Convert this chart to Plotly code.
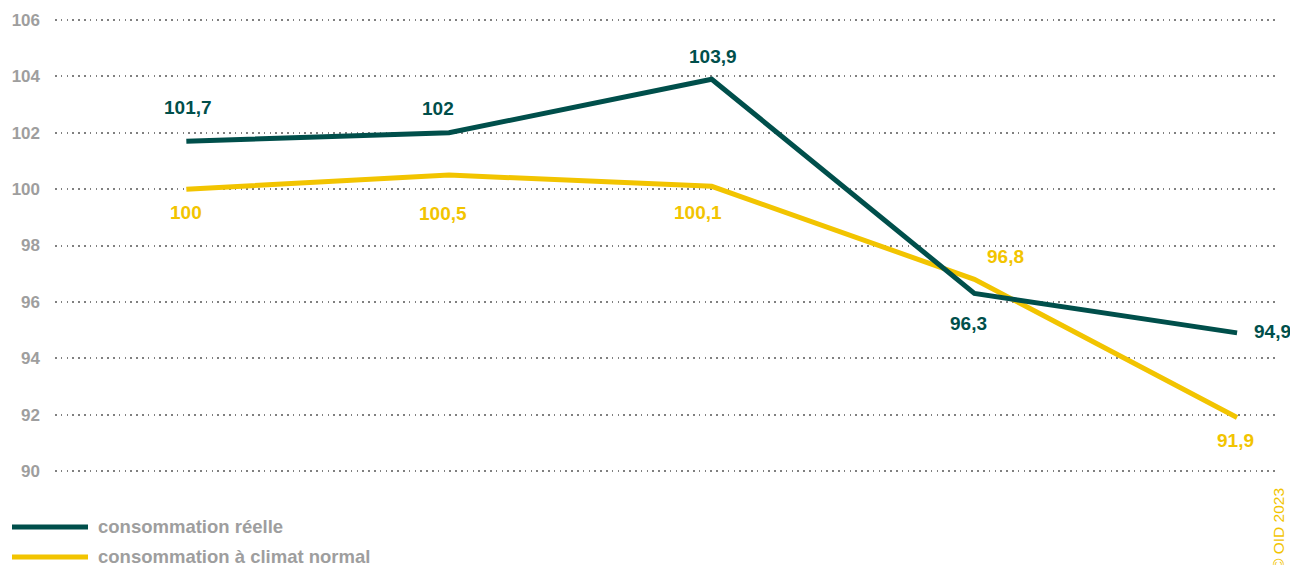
import plotly.graph_objects as go

# ---- data ----
periods = [0, 1, 2, 3, 4]
reelle = [101.7, 102.0, 103.9, 96.3, 94.9]
climat_normal = [100.0, 100.5, 100.1, 96.8, 91.9]
reelle_labels = ["101,7", "102", "103,9", "96,3", "94,9"]
climat_labels = ["100", "100,5", "100,1", "96,8", "91,9"]
series_names = ["consommation réelle", "consommation à climat normal"]
y_ticks = [90, 92, 94, 96, 98, 100, 102, 104, 106]
credit = "© OID 2023"

# ---- style ----
TEAL = "#004f4b"
YELLOW = "#f2c400"
GREY = "#9e9e9e"
FONT = "Liberation Sans, Arial, sans-serif"
W, H = 1290, 565
ML, MR, MT, MB = 55, 13, 14, 88
PW, PH = W - ML - MR, H - MT - MB

def px_x(px):
    return (px - ML) / PW

def px_y(py):
    return (H - MB - py) / PH

# label offsets (xshift, yshift, anchor) per point
reelle_off = [(2, 34, "center"), (-11, 24, "center"), (1, 23, "center"), (-6, -30, "center"), (15, 1, "left")]
climat_off = [(0, -23, "center"), (-6, -38, "center"), (-14, -26, "center"), (31, 23, "center"), (-2, -23, "center")]

fig = go.Figure()
fig.add_trace(go.Scatter(x=periods, y=climat_normal, mode="lines", name=series_names[1],
                         line=dict(color=YELLOW, width=5), showlegend=False, hoverinfo="skip"))
fig.add_trace(go.Scatter(x=periods, y=reelle, mode="lines", name=series_names[0],
                         line=dict(color=TEAL, width=5), showlegend=False, hoverinfo="skip"))

annotations = []
for xs, ys, labs, offs, col in [(periods, reelle, reelle_labels, reelle_off, TEAL),
                                 (periods, climat_normal, climat_labels, climat_off, YELLOW)]:
    for x, y, lab, (dx, dy, anc) in zip(xs, ys, labs, offs):
        annotations.append(dict(x=x, y=y, xref="x", yref="y", text=f"<b>{lab}</b>", showarrow=False,
                                xshift=dx, yshift=dy, xanchor=anc, yanchor="middle",
                                font=dict(family=FONT, size=19, color=col)))

# custom legend
shapes = []
for i, (name, col, py) in enumerate([(series_names[0], TEAL, 527), (series_names[1], YELLOW, 557)]):
    shapes.append(dict(type="line", xref="paper", yref="paper", x0=px_x(12), x1=px_x(88),
                       y0=px_y(py), y1=px_y(py), line=dict(color=col, width=5)))
    annotations.append(dict(x=px_x(96), y=px_y(py - 1), xref="paper", yref="paper", text=f"<b>{name}</b>",
                            showarrow=False, xanchor="left", yanchor="middle",
                            font=dict(family=FONT, size=18.5, color=GREY)))

annotations.append(dict(x=px_x(1278), y=px_y(529), xref="paper", yref="paper", text=credit,
                        showarrow=False, textangle=-90, xanchor="center", yanchor="middle",
                        font=dict(family=FONT, size=15.5, color=YELLOW)))

fig.update_layout(
    width=W, height=H,
    margin=dict(l=ML, r=MR, t=MT, b=MB),
    paper_bgcolor="white", plot_bgcolor="white",
    showlegend=False,
    annotations=annotations, shapes=shapes,
    xaxis=dict(range=[-0.5, 4.152], showgrid=False, showticklabels=False, zeroline=False, showline=False),
    yaxis=dict(range=[89.787, 106.213], tickvals=y_ticks, showgrid=True, gridcolor="#808080",
               griddash="1.5px,4.3px", gridwidth=1.5, zeroline=False, showline=False, ticks="",
               ticklabelstandoff=14,
               tickfont=dict(family=FONT, size=17, color=GREY, weight="bold")),
)

fig.write_html("out.html", config={"displayModeBar": False},
               post_script="document.body.style.margin='0';document.body.style.overflow='hidden';")
